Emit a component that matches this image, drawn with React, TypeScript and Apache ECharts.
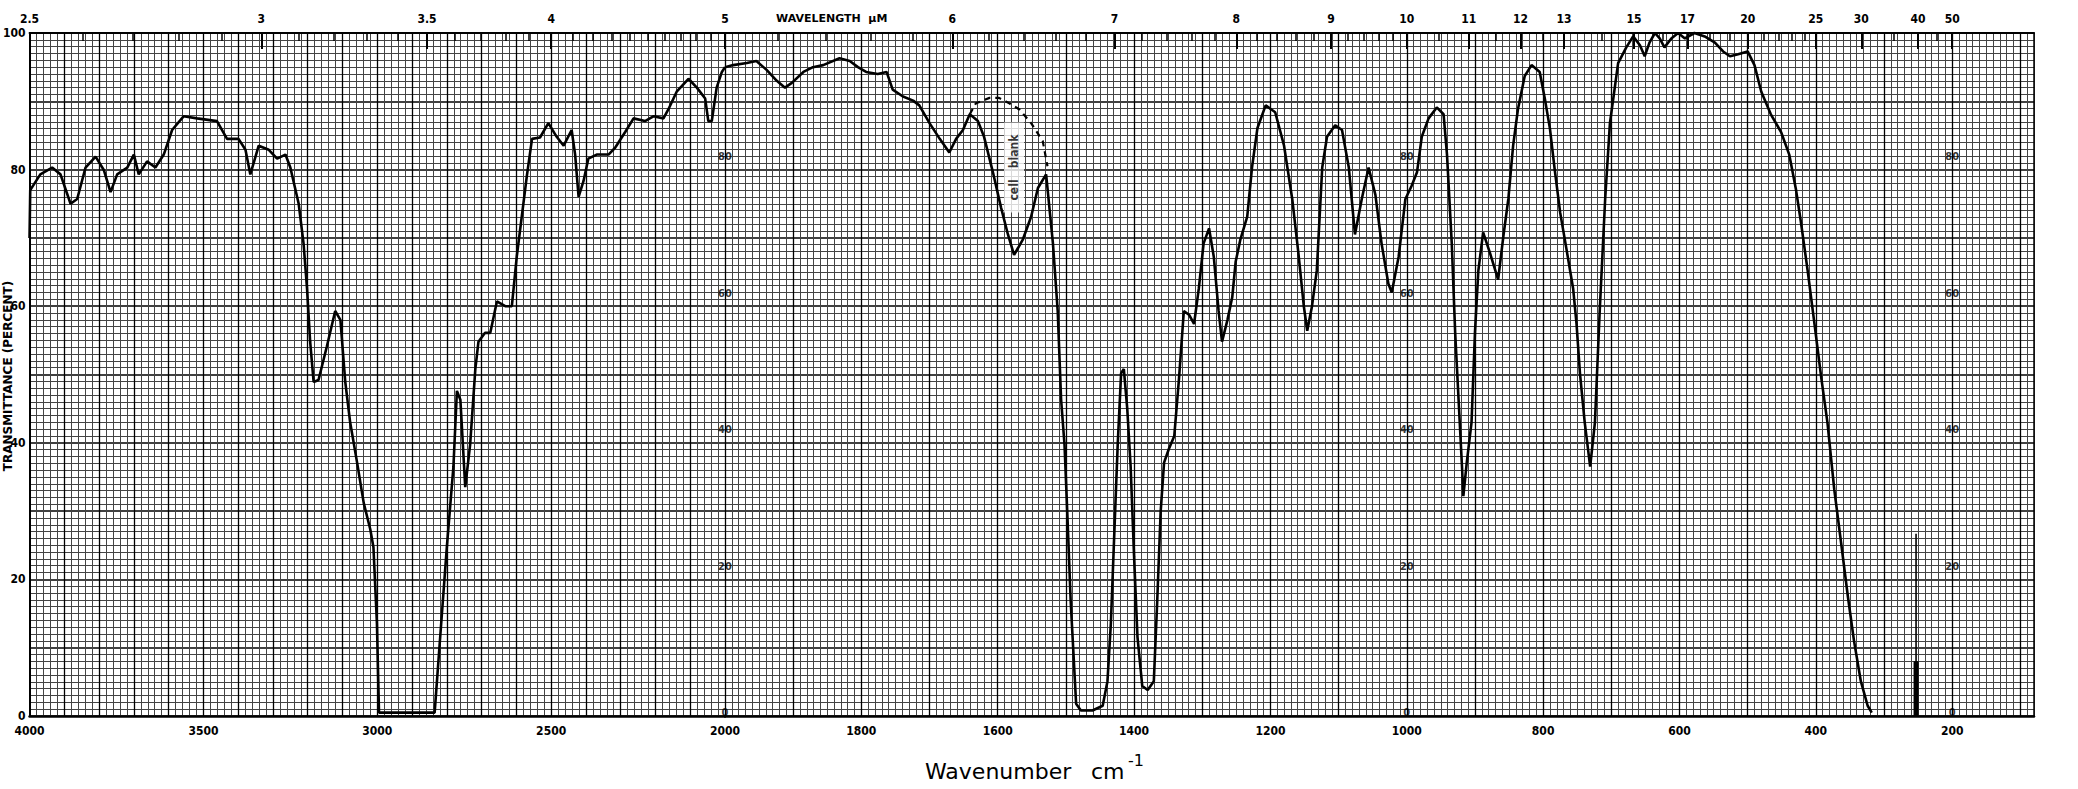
import React, { useEffect, useRef } from "react";
import * as echarts from "echarts";

// ---- spectrum (wavenumber cm-1, transmittance %) ----
const wavenumbers = [
  4000, 3998, 3969, 3935, 3911, 3882, 3863, 3839, 3810, 3786, 3767, 3748, 3719, 3700, 3686, 3662, 3638, 3614,
  3590, 3557, 3518, 3461, 3432, 3399, 3379, 3365, 3341, 3312, 3288, 3264, 3250, 3226, 3212, 3202, 3193, 3183,
  3169, 3145, 3121, 3106, 3092, 3078, 3058, 3039, 3020, 3011, 3001, 2995, 2835, 2819, 2800, 2781, 2771, 2761,
  2747, 2733, 2718, 2709, 2690, 2675, 2656, 2632, 2613, 2599, 2570, 2555, 2532, 2508, 2484, 2464, 2441, 2431,
  2421, 2407, 2393, 2369, 2335, 2316, 2287, 2263, 2230, 2206, 2177, 2163, 2139, 2105, 2081, 2057, 2048, 2038,
  2024, 2009, 2000, 1988, 1968, 1954, 1939, 1924, 1912, 1902, 1885, 1871, 1856, 1832, 1817, 1805, 1793, 1776,
  1763, 1754, 1739, 1724, 1715, 1700, 1685, 1671, 1661, 1651, 1641, 1629, 1620, 1607, 1595, 1585, 1576, 1563,
  1551, 1541, 1529, 1519, 1512, 1507, 1502, 1498, 1493, 1485, 1478, 1461, 1446, 1439, 1434, 1429, 1424, 1419,
  1415, 1410, 1405, 1400, 1395, 1388, 1380, 1371, 1366, 1361, 1356, 1349, 1341, 1334, 1327, 1319, 1312, 1305,
  1298, 1290, 1283, 1276, 1271, 1263, 1256, 1251, 1244, 1234, 1227, 1219, 1207, 1193, 1180, 1168, 1159, 1151,
  1146, 1139, 1132, 1124, 1117, 1105, 1095, 1085, 1076, 1066, 1056, 1046, 1037, 1027, 1022, 1012, 1002, 993,
  985, 978, 968, 956, 946, 941, 934, 929, 924, 919, 917, 912, 905, 900, 895, 888, 878, 866, 858, 851, 844, 837,
  827, 817, 805, 797, 790, 783, 775, 766, 756, 751, 746, 739, 731, 724, 717, 709, 702, 690, 678, 668, 658, 651,
  644, 636, 629, 622, 612, 602, 592, 578, 563, 548, 536, 526, 514, 500, 490, 480, 466, 451, 439, 429, 422, 412,
  402, 392, 383, 373, 363, 353, 344, 334, 324, 318,
];
const transmittance = [
  70, 77, 79.3, 80.3, 79.3, 75.0, 75.7, 80.3, 81.9, 79.9, 76.7, 79.3, 80.3, 82.2, 79.3, 81.2, 80.3, 82.2,
  85.8, 87.8, 87.5, 87.1, 84.5, 84.5, 82.9, 79.3, 83.5, 82.9, 81.6, 82.2, 80.3, 75.0, 69.2, 62.6, 54.8, 48.9,
  49.2, 54.1, 59.3, 58.0, 48.9, 43.0, 37.1, 31.2, 27.3, 24.7, 13.6, 0.5, 0.5, 11.6, 24.7, 36.5, 47.6, 46.3,
  33.5, 39.7, 50.8, 54.8, 56.1, 56.1, 60.7, 60.0, 60.0, 67.2, 79.0, 84.5, 84.7, 86.8, 84.8, 83.5, 85.8, 82.2,
  76.0, 78.3, 81.6, 82.2, 82.2, 83.2, 85.5, 87.5, 87.1, 87.8, 87.5, 88.8, 91.4, 93.3, 92.0, 90.4, 87.1, 87.1,
  92.0, 94.3, 95.0, 95.3, 95.6, 95.9, 94.6, 93.0, 92.0, 92.7, 94.3, 95.0, 95.3, 96.3, 95.9, 95.0, 94.3, 94.0,
  94.3, 91.7, 90.7, 90.1, 89.4, 86.8, 84.5, 82.5, 84.5, 85.8, 88.1, 87.1, 84.8, 79.6, 74.4, 70.5, 67.5, 69.8,
  73.1, 77.3, 79.3, 69.2, 59.3, 46.3, 39.7, 29.9, 16.9, 1.8, 0.8, 0.8, 1.5, 5.1, 13.6, 26.7, 39.7, 50.2,
  50.8, 45.0, 36.5, 23.4, 11.6, 4.4, 3.8, 5.1, 16.9, 29.9, 37.1, 39.1, 41.0, 49.5, 59.3, 58.7, 57.4, 62.6,
  69.2, 71.4, 67.2, 59.3, 54.8, 58.0, 61.3, 66.5, 69.8, 73.1, 80.3, 86.1, 89.4, 88.4, 83.5, 75.7, 67.8, 60.0,
  56.4, 60.0, 65.2, 80.3, 84.8, 86.5, 85.8, 80.3, 70.5, 75.7, 80.3, 76.3, 69.2, 63.3, 62.0, 67.2, 75.7, 77.6,
  79.6, 84.8, 87.5, 89.1, 88.1, 82.2, 69.2, 56.1, 46.3, 36.5, 32.2, 37.1, 43.0, 56.1, 65.2, 70.8, 67.8, 63.9, 70.5, 75.7, 83.5, 88.8,
  93.7, 95.3, 94.3, 90.1, 86.0, 80.0, 73.7, 68.5, 62.6, 57.4, 50.2, 43.0, 36.5, 43.0, 59.3, 75.7, 86.8, 95.6, 97.9, 99.5, 98.2, 96.6,
  98.6, 100.0, 99.2, 97.9, 99.2, 100.0, 99.2, 100.0, 99.5, 98.6, 97.3, 96.6, 96.9, 97.3, 95.3, 91.4, 88.1, 85.5, 82.2, 77.0, 72.4, 65.2,
  57.4, 49.5, 43.0, 33.2, 25.4, 17.5, 11.0, 5.1, 1.5, 0.5,
];

// "cell blank" dashed trace
const dashedWavenumbers = [1641, 1632, 1612, 1598, 1583, 1568, 1551, 1534, 1527];
const dashedTransmittance = [88.1, 89.7, 90.5, 90.5, 89.7, 88.8, 86.8, 84.2, 80.5];

// pen marker near 250 cm-1
const markerWavenumber = 253;
const markerThinTop = 26.7;
const markerThickTop = 8;

// axes / labels
const wavelengthLabelsLeft = [2.5, 3, 3.5, 4, 5];
const wavelengthLabelsRight = [6, 7, 8, 9, 10, 11, 12, 13, 15, 17, 20, 25, 30, 40, 50];
const wavelengthMinorLeft = [2.6, 2.7, 2.8, 2.9, 3.1, 3.2, 3.3, 3.4, 3.6, 3.7, 3.8, 3.9, 4.1, 4.2, 4.3, 4.4, 4.5, 4.6, 4.7, 4.8, 4.9];
const wavelengthMinorRight = [5.2, 5.4, 5.6, 5.8, 6.2, 6.4, 6.6, 6.8, 7.2, 7.4, 7.6, 7.8, 8.2, 8.4, 8.6, 8.8, 9.2, 9.4, 9.6, 9.8, 10.5, 11.5, 12.5, 14, 16, 18, 19, 21, 22, 23, 24, 35, 45];
const bottomLabelsLeft = [4000, 3500, 3000, 2500, 2000];
const bottomLabelsRight = [1800, 1600, 1400, 1200, 1000, 800, 600, 400, 200];
const yLabels = [0, 20, 40, 60, 80, 100];
const innerLabelColumns = [2000, 1000, 200];
const innerLabelValues = [80, 60, 40, 20, 0];
const majorLinesLeft = [2100, 2200, 2300, 2400, 2500, 2600, 2700, 2800, 2900, 3000, 3100, 3200, 3300, 3400, 3500, 3600, 3700, 3800, 3900];
const majorLinesRight = [100, 200, 300, 400, 500, 600, 700, 800, 900, 1000, 1100, 1200, 1300, 1400, 1500, 1600, 1700, 1800, 1900, 2000];
const cellBlankPosition = [1576, 80.3];

const FONT = "'DejaVu Sans Condensed', 'DejaVu Sans', sans-serif";
const MINOR = "#444";
const MAJOR = "#000";

const labelStyle = { fontSize: 12, fontWeight: "bold", fontFamily: FONT, color: "#000" };

const wlFormat = (v: number) => String(Math.round((10000 / v) * 10) / 10);
const plainFormat = (v: number) => String(Math.round(v));

export default function App() {
  const ref = useRef<HTMLDivElement>(null);
  useEffect(() => {
    if (!ref.current) return;
    const chart = echarts.init(ref.current, null, { renderer: "svg" });
    const pts = wavenumbers.map((w, i) => [w, transmittance[i]]);
    const leftPts = pts.filter((p) => p[0] >= 2000);
    const rightPts = pts.filter((p) => p[0] <= 2000);
    const dashedPts = dashedWavenumbers.map((w, i) => [w, dashedTransmittance[i]]);

    const innerData: any[] = [];
    innerLabelColumns.forEach((c) =>
      innerLabelValues.forEach((v) =>
        innerData.push({ value: [c, v], label: { offset: [0, v === 0 ? -4 : -13] } })
      )
    );

    const markLineBase = {
      silent: true,
      symbol: ["none", "none"],
      label: { show: false },
      emphasis: { disabled: true },
      lineStyle: { color: MAJOR, width: 1.3, type: "solid" },
    };

    const bottomAxis = (gi: number, min: number, max: number, interval: number, labels: number[]) => ({
      gridIndex: gi,
      type: "value",
      min,
      max,
      inverse: true,
      position: "bottom",
      interval,
      axisLine: { show: true, onZero: false, lineStyle: { color: "#000", width: 2.5 } },
      axisTick: { show: false },
      axisLabel: { ...labelStyle, customValues: labels, formatter: plainFormat, margin: 9, showMinLabel: true, showMaxLabel: true },
      splitLine: { show: true, lineStyle: { color: MINOR, width: 1 } },
    });
    const topAxis = (gi: number, min: number, max: number, wls: number[], labelled: boolean) => ({
      gridIndex: gi,
      type: "value",
      min,
      max,
      inverse: true,
      position: "top",
      axisLine: { show: labelled, onZero: false, lineStyle: { color: "#000", width: 2 } },
      axisTick: {
        show: true,
        inside: true,
        length: labelled ? 16 : 8,
        customValues: wls.map((l) => 10000 / l),
        lineStyle: { color: "#000", width: labelled ? 2 : 1.5 },
      },
      axisLabel: labelled
        ? { ...labelStyle, customValues: wls.map((l) => 10000 / l), formatter: wlFormat, margin: 8, showMinLabel: true, showMaxLabel: true }
        : { show: false },
      splitLine: { show: false },
    });
    const yAxis = (gi: number, pos: string, showLabels: boolean) => ({
      gridIndex: gi,
      type: "value",
      min: 0,
      max: 100,
      interval: 10,
      position: pos,
      axisLine: { show: true, onZero: false, lineStyle: { color: "#000", width: pos === "left" ? 2 : 1.5 } },
      axisTick: { show: false },
      axisLabel: showLabels ? { ...labelStyle, customValues: yLabels, formatter: plainFormat, margin: 4 } : { show: false },
      splitLine: { show: true, lineStyle: { color: MAJOR, width: 1.6 } },
      minorTick: { show: false, splitNumber: 10 },
      minorSplitLine: { show: true, lineStyle: { color: MINOR, width: 1 } },
    });

    const option: any = {
      animation: false,
      backgroundColor: "#fff",
      grid: [
        { left: 29, top: 33, width: 696, height: 683 },
        { left: 725, top: 33, width: 1309, height: 683 },
      ],
      xAxis: [
        bottomAxis(0, 2000, 4000, 20, bottomLabelsLeft),
        bottomAxis(1, 80, 2000, 10, bottomLabelsRight),
        topAxis(0, 2000, 4000, wavelengthLabelsLeft, true),
        topAxis(1, 80, 2000, wavelengthLabelsRight, true),
        topAxis(0, 2000, 4000, wavelengthMinorLeft, false),
        topAxis(1, 80, 2000, wavelengthMinorRight, false),
      ],
      yAxis: [yAxis(0, "left", true), yAxis(1, "right", false)],
      graphic: [
        {
          type: "text",
          x: 776,
          y: 18,
          style: { text: "WAVELENGTH  μM", font: "bold 11px 'DejaVu Sans'", fill: "#000", align: "left", verticalAlign: "middle", textAlign: "left", textVerticalAlign: "middle" },
        },
        {
          type: "text",
          x: 8,
          y: 376,
          rotation: Math.PI / 2,
          style: { text: "TRANSMITTANCE (PERCENT)", font: "bold 12px 'DejaVu Sans'", fill: "#000", align: "center", verticalAlign: "middle", textAlign: "center", textVerticalAlign: "middle" },
        },
        {
          type: "text",
          x: 925,
          y: 771,
          style: { text: "Wavenumber", font: "22px 'DejaVu Sans'", fill: "#000", align: "left", verticalAlign: "middle", textAlign: "left", textVerticalAlign: "middle" },
        },
        {
          type: "text",
          x: 1091,
          y: 771,
          style: { text: "cm", font: "22px 'DejaVu Sans'", fill: "#000", align: "left", verticalAlign: "middle", textAlign: "left", textVerticalAlign: "middle" },
        },
        {
          type: "text",
          x: 1128,
          y: 760,
          style: { text: "-1", font: "16px 'DejaVu Sans'", fill: "#000", align: "left", verticalAlign: "middle", textAlign: "left", textVerticalAlign: "middle" },
        },
      ],
      series: [
        {
          type: "scatter",
          xAxisIndex: 0,
          yAxisIndex: 0,
          data: [[4000, 100]],
          symbolSize: 1,
          itemStyle: { color: "rgba(0,0,0,0)" },
          silent: true,
          z: 3,
          markLine: { ...markLineBase, data: majorLinesLeft.map((v) => ({ xAxis: v })) },
        },
        {
          type: "scatter",
          xAxisIndex: 1,
          yAxisIndex: 1,
          data: innerData,
          symbolSize: 1,
          itemStyle: { color: "rgba(0,0,0,0)" },
          silent: true,
          z: 4,
          label: { show: true, position: "inside", formatter: (p: any) => String(p.value[1]), fontSize: 11, fontWeight: "bold", fontFamily: FONT, color: "#000" },
          markLine: { ...markLineBase, data: majorLinesRight.map((v) => ({ xAxis: v })) },
        },
        {
          type: "line",
          xAxisIndex: 0,
          yAxisIndex: 0,
          data: leftPts,
          symbol: "none",
          showSymbol: false,
          clip: false,
          silent: true,
          z: 5,
          lineStyle: { color: "#000", width: 2.6 },
        },
        {
          type: "line",
          xAxisIndex: 1,
          yAxisIndex: 1,
          data: rightPts,
          symbol: "none",
          showSymbol: false,
          clip: false,
          silent: true,
          z: 5,
          lineStyle: { color: "#000", width: 2.6 },
        },
        {
          type: "line",
          xAxisIndex: 1,
          yAxisIndex: 1,
          data: dashedPts,
          symbol: "none",
          showSymbol: false,
          silent: true,
          z: 5,
          lineStyle: { color: "#000", width: 2.2, type: [6, 5] },
        },
        {
          type: "line",
          xAxisIndex: 1,
          yAxisIndex: 1,
          data: [[markerWavenumber, 0], [markerWavenumber, markerThinTop]],
          symbol: "none",
          silent: true,
          z: 5,
          lineStyle: { color: "#000", width: 1.6 },
        },
        {
          type: "line",
          xAxisIndex: 1,
          yAxisIndex: 1,
          data: [[markerWavenumber, 0], [markerWavenumber, markerThickTop]],
          symbol: "none",
          silent: true,
          z: 5,
          lineStyle: { color: "#000", width: 5 },
        },
        {
          type: "scatter",
          xAxisIndex: 1,
          yAxisIndex: 1,
          data: [cellBlankPosition],
          symbolSize: 1,
          itemStyle: { color: "rgba(0,0,0,0)" },
          silent: true,
          z: 7,
          label: {
            show: true,
            position: "inside",
            formatter: "cell   blank",
            rotate: 90,
            backgroundColor: "#fff",
            padding: [4, 12],
            fontSize: 12,
            fontWeight: "bold",
            fontFamily: FONT,
            color: "#000",
          },
        },
      ],
    };
    chart.setOption(option);
    return () => chart.dispose();
  }, []);
  return (
    <div
      ref={ref}
      style={{ position: "fixed", left: 0, top: 0, width: 2078, height: 789, background: "#fff" }}
    />
  );
}
